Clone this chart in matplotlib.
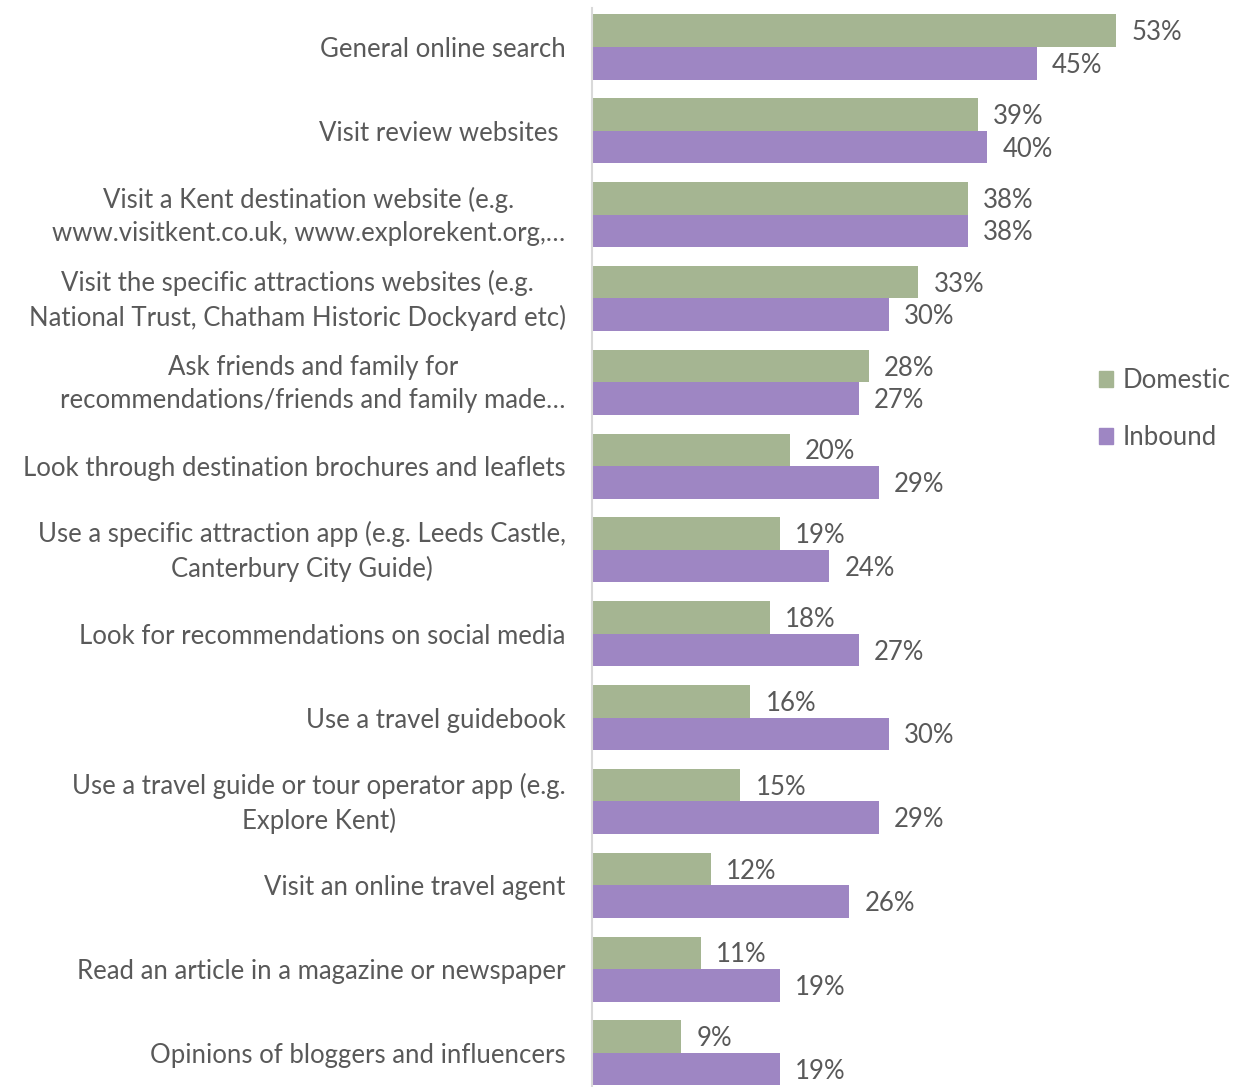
import matplotlib.pyplot as plt
import numpy as np
from matplotlib.patches import Patch

categories = [
    'General online search',
    'Visit review websites ',
    'Visit a Kent destination website (e.g.\nwww.visitkent.co.uk, www.explorekent.org,…',
    'Visit the specific attractions websites (e.g.\nNational Trust, Chatham Historic Dockyard etc)',
    'Ask friends and family for\nrecommendations/friends and family made…',
    'Look through destination brochures and leaflets',
    'Use a specific attraction app (e.g. Leeds Castle,\nCanterbury City Guide)',
    'Look for recommendations on social media',
    'Use a travel guidebook',
    'Use a travel guide or tour operator app (e.g.\nExplore Kent)',
    'Visit an online travel agent',
    'Read an article in a magazine or newspaper',
    'Opinions of bloggers and influencers',
]
domestic = [53, 39, 38, 33, 28, 20, 19, 18, 16, 15, 12, 11, 9]
inbound = [45, 40, 38, 30, 27, 29, 24, 27, 30, 29, 26, 19, 19]

green = '#A5B592'
purple = '#9E86C3'
text_col = '#595959'

plt.rcParams['font.family'] = ['Lato', 'DejaVu Sans']

W, H = 1248, 1087
fig = plt.figure(figsize=(W / 100, H / 100), dpi=100)
ax = fig.add_axes([592 / W, 0, (1240 - 592) / W, (H - 8) / H])

y = np.arange(len(categories))
h = 0.388
ax.barh(y - h / 2, domestic, height=h, color=green, clip_on=False)
ax.barh(y + h / 2, inbound, height=h, color=purple, clip_on=False)

px_per_pct = 524 / 53
ax.set_xlim(0, 648 / px_per_pct)
ax.set_ylim(12.406, -0.465)

fs = 18.5
for i, (d, b) in enumerate(zip(domestic, inbound)):
    ax.annotate(f'{d}%', (d, i - h / 2), xytext=(11, -1.5), textcoords='offset points',
                va='center', ha='left', fontsize=fs, color=text_col)
    ax.annotate(f'{b}%', (b, i + h / 2), xytext=(11, -1.5), textcoords='offset points',
                va='center', ha='left', fontsize=fs, color=text_col)

# category labels (two-line ones sit a little higher in the original)
for i, cat in enumerate(categories):
    dy = 3.6 if '\n' in cat else 0
    ax.annotate(cat, (0, i), xytext=(-19, dy), textcoords='offset points',
                va='center_baseline', ha='right', multialignment='center',
                linespacing=1.41, fontsize=fs, color=text_col, annotation_clip=False)

ax.set_yticks([])
ax.set_xticks([])
for s in ['top', 'right', 'bottom']:
    ax.spines[s].set_visible(False)
ax.spines['left'].set_color('#D9D9D9')
ax.spines['left'].set_linewidth(1.5)

handles = [Patch(color=green, label='Domestic'), Patch(color=purple, label='Inbound')]
fig.legend(handles=handles, loc='center left', bbox_to_anchor=(1076 / W, 1 - 409 / H),
           frameon=False, fontsize=fs, labelcolor=text_col, handlelength=0.55,
           handleheight=0.55, handletextpad=0.35, labelspacing=1.25)

fig.savefig('out.png', dpi=100)
